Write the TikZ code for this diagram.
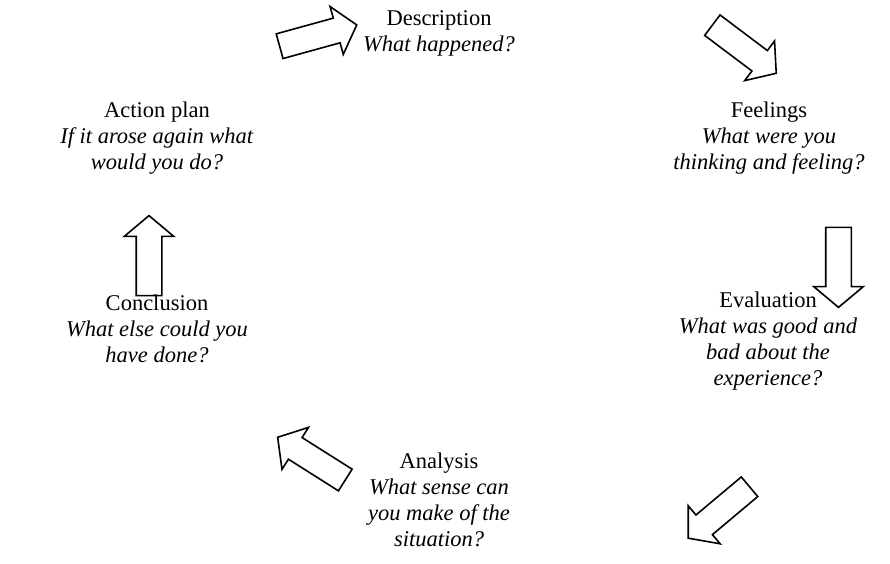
\documentclass[tikz,border=0pt]{standalone}
\usepackage{fontspec}
\setmainfont{Liberation Serif}
\usetikzlibrary{shapes.arrows}
\begin{document}
\begin{tikzpicture}[x=1pt,y=-1pt,
  stage/.style={align=center,inner sep=0pt,font=\fontsize{22.5}{26}\selectfont},
  blockarrow/.style={single arrow,draw=black,line width=1.6pt,
    minimum height=80pt,inner sep=12pt,single arrow head extend=12pt,
    single arrow tip angle=100,outer sep=0pt}]
\useasboundingbox (0,0) rectangle (890,563);
% stages
\node[stage] (desc) at (439,33.5) {Description\\\textit{What happened?}};
\node[stage] (feel) at (769,138.5) {Feelings\\\textit{What were you}\\\textit{thinking and feeling?}};
\node[stage] (eval) at (768,341.5) {Evaluation\\\textit{What was good and}\\\textit{bad about the}\\\textit{experience?}};
\node[stage] (anal) at (439,499.5) {Analysis\\\textit{What sense can}\\\textit{you make of the}\\\textit{situation?}};
\node[stage] (conc) at (157,328.5) {Conclusion\\\textit{What else could you}\\\textit{have done?}};
\node[stage] (act) at (157,138.5) {Action plan\\\textit{If it arose again what}\\\textit{would you do?}};
% arrows
\node[blockarrow,rotate=15.4] (a1) at (313,37) {};
\node[blockarrow,rotate=-37] (a2) at (740,46) {};
\node[blockarrow,rotate=-90] (a3) at (838.5,262) {};
\node[blockarrow,rotate=220] (a4) at (723,509) {};
\node[blockarrow,rotate=147.7] (a5) at (316,461.5) {};
\node[blockarrow,rotate=90] (a6) at (149,261) {};
\end{tikzpicture}
\end{document}
